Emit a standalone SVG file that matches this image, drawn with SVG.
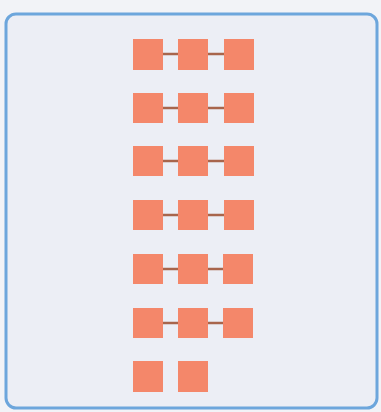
<svg xmlns="http://www.w3.org/2000/svg" width="381" height="412" viewBox="0 0 381 412">
<style>
.n{fill:#f4876a}
.c{stroke:#a8654c;stroke-width:2.5}
</style>
<rect x="0" y="0" width="381" height="412" fill="#f2f3f7"/>
<rect x="6" y="14" width="371" height="394" rx="10" fill="#eceef5" stroke="#6da6dc" stroke-width="3"/>
<g id="connectors">
<line class="c" x1="163" y1="54" x2="178" y2="54"/><line class="c" x1="208" y1="54" x2="224" y2="54"/>
<line class="c" x1="163" y1="108" x2="178" y2="108"/><line class="c" x1="208" y1="108" x2="224" y2="108"/>
<line class="c" x1="163" y1="161" x2="178" y2="161"/><line class="c" x1="208" y1="161" x2="224" y2="161"/>
<line class="c" x1="163" y1="215" x2="178" y2="215"/><line class="c" x1="208" y1="215" x2="224" y2="215"/>
<line class="c" x1="163" y1="269" x2="178" y2="269"/><line class="c" x1="208" y1="269" x2="224" y2="269"/>
<line class="c" x1="163" y1="323" x2="178" y2="323"/><line class="c" x1="208" y1="323" x2="224" y2="323"/>
</g>
<g id="r1"><rect class="n" x="133" y="39" width="30" height="31"/><rect class="n" x="178" y="39" width="30" height="31"/><rect class="n" x="224" y="39" width="30" height="31"/></g>
<g id="r2"><rect class="n" x="133" y="93" width="30" height="30"/><rect class="n" x="178" y="93" width="30" height="30"/><rect class="n" x="224" y="93" width="30" height="30"/></g>
<g id="r3"><rect class="n" x="133" y="146" width="30" height="30"/><rect class="n" x="178" y="146" width="30" height="30"/><rect class="n" x="224" y="146" width="30" height="30"/></g>
<g id="r4"><rect class="n" x="133" y="200" width="30" height="30"/><rect class="n" x="178" y="200" width="30" height="30"/><rect class="n" x="224" y="200" width="30" height="30"/></g>
<g id="r5"><rect class="n" x="133" y="254" width="30" height="30"/><rect class="n" x="178" y="254" width="30" height="30"/><rect class="n" x="223" y="254" width="30" height="30"/></g>
<g id="r6"><rect class="n" x="133" y="308" width="30" height="30"/><rect class="n" x="178" y="308" width="30" height="30"/><rect class="n" x="223" y="308" width="30" height="30"/></g>
<g id="r7"><rect class="n" x="133" y="361" width="30" height="31"/><rect class="n" x="178" y="361" width="30" height="31"/></g>
</svg>
